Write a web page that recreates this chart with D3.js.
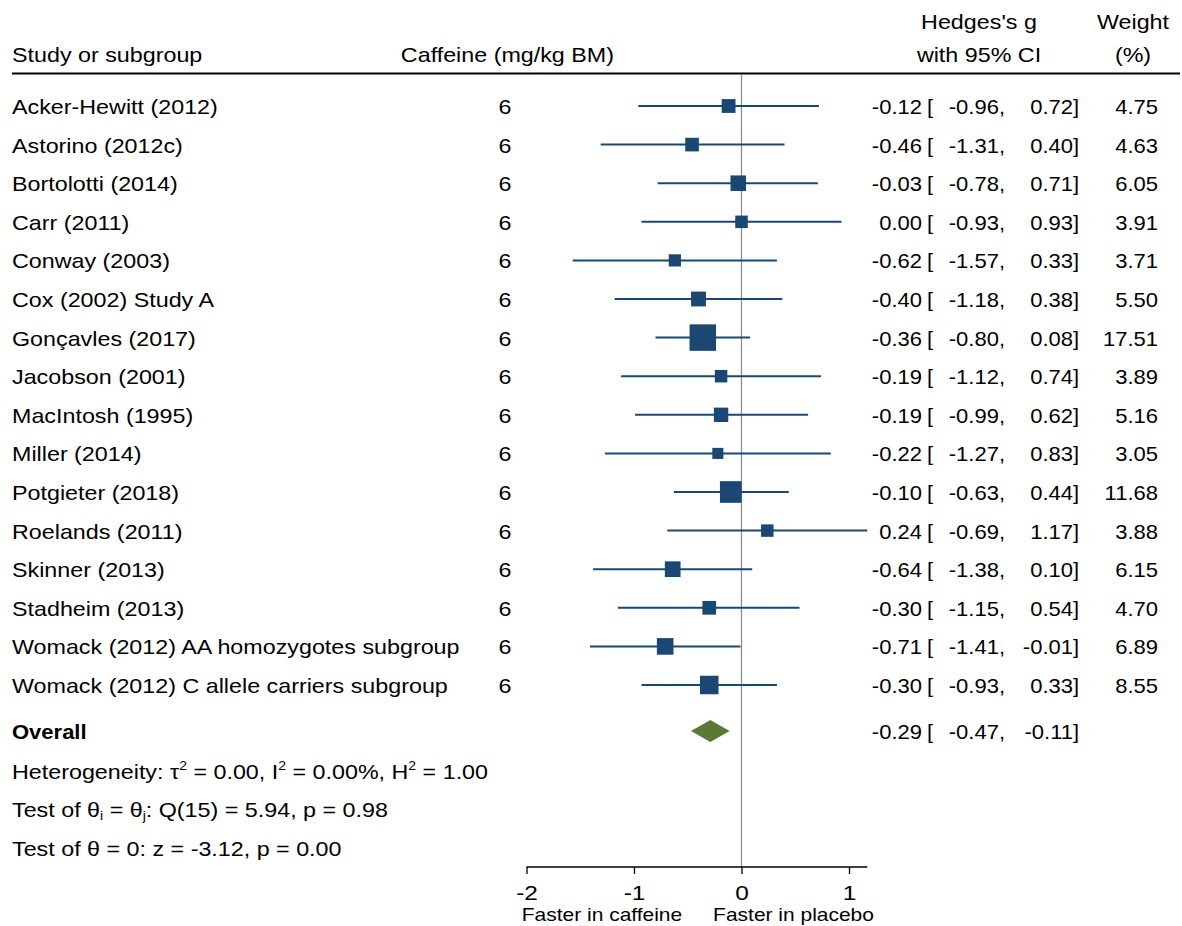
<!DOCTYPE html>
<html><head><meta charset="utf-8">
<script src="https://cdn.jsdelivr.net/npm/d3@7/dist/d3.min.js"></script>
<style>body{margin:0;background:#fff}svg{font-family:"Liberation Sans",Arial,sans-serif}</style>
</head><body><svg id="c" width="1182" height="926"></svg>
<script>
const studies = ["Acker-Hewitt (2012)","Astorino (2012c)","Bortolotti (2014)","Carr (2011)","Conway (2003)","Cox (2002) Study A","Gonçavles (2017)","Jacobson (2001)","MacIntosh (1995)","Miller (2014)","Potgieter (2018)","Roelands (2011)","Skinner (2013)","Stadheim (2013)","Womack (2012) AA homozygotes subgroup","Womack (2012) C allele carriers subgroup"];
const dose = [6,6,6,6,6,6,6,6,6,6,6,6,6,6,6,6];
const g = [-0.12,-0.46,-0.03,0.00,-0.62,-0.40,-0.36,-0.19,-0.19,-0.22,-0.10,0.24,-0.64,-0.30,-0.71,-0.30];
const lo = [-0.96,-1.31,-0.78,-0.93,-1.57,-1.18,-0.80,-1.12,-0.99,-1.27,-0.63,-0.69,-1.38,-1.15,-1.41,-0.93];
const hi = [0.72,0.40,0.71,0.93,0.33,0.38,0.08,0.74,0.62,0.83,0.44,1.17,0.10,0.54,-0.01,0.33];
const weight = [4.75,4.63,6.05,3.91,3.71,5.50,17.51,3.89,5.16,3.05,11.68,3.88,6.15,4.70,6.89,8.55];
const overall = {g:-0.29, lo:-0.47, hi:-0.11};
const xTicks = [-2,-1,0,1];

const svg = d3.select("#c");
const x = d3.scaleLinear().domain([-2,1]).range([526.5,849]);
const y = d3.scaleLinear().domain([0,15]).range([106,685]);
const side = d3.scaleSqrt().domain([0,17.51]).range([0,26.5]);
const fs = 20, SX = 1.165, NX = 1.1;
const navy = "#1b4872";
const fmt = v => d3.format(".2f")(v).replace("−","-");

function T(parent, px, py, str, opts={}){
  const t = parent.append("text")
    .attr("transform",`translate(${px},${py}) scale(${opts.sx||SX},1)`)
    .attr("font-size",opts.size||fs)
    .attr("text-anchor",opts.anchor||"start")
    .attr("fill","#000");
  if(opts.bold) t.attr("font-weight","bold");
  if(str!==null) t.text(str);
  return t;
}

// header
T(svg,12,62,"Study or subgroup");
T(svg,614,62,"Caffeine (mg/kg BM)",{anchor:"end"});
T(svg,979,29,"Hedges's g",{anchor:"middle"});
T(svg,979,62,"with 95% CI",{anchor:"middle"});
T(svg,1133,29,"Weight",{anchor:"middle"});
T(svg,1133,62,"(%)",{anchor:"middle"});
svg.append("line").attr("x1",12).attr("x2",1180).attr("y1",73.5).attr("y2",73.5).attr("stroke","#000").attr("stroke-width",2);

// null line
svg.append("line").attr("x1",x(0)).attr("x2",x(0)).attr("y1",75).attr("y2",867).attr("stroke","#888").attr("stroke-width",1.2);

function ciRow(sel, yy, gg, l, h){
  T(sel,922,yy,fmt(gg),{anchor:"end",sx:NX});
  T(sel,927,yy,"[",{sx:NX});
  T(sel,1005,yy,fmt(l)+",",{anchor:"end",sx:NX});
  T(sel,1073,yy,fmt(h),{anchor:"end",sx:NX});
  T(sel,1073,yy,"]",{sx:NX});
}

const rows = svg.append("g");
studies.forEach((s,i)=>{
  const gr = rows.append("g");
  const yy = y(i);
  T(gr,12,yy+8,s);
  T(gr,505,yy+8,String(dose[i]),{anchor:"middle"});
  gr.append("line").attr("x1",x(lo[i])).attr("x2",x(hi[i])).attr("y1",yy).attr("y2",yy).attr("stroke",navy).attr("stroke-width",2);
  const sd = side(weight[i]);
  gr.append("rect").attr("x",x(g[i])-sd/2).attr("y",yy-sd/2).attr("width",sd).attr("height",sd).attr("fill",navy);
  ciRow(gr, yy+8, g[i], lo[i], hi[i]);
  T(gr,1158,yy+8,fmt(weight[i]),{anchor:"end",sx:NX});
});

// overall
const yo = 731;
T(svg,12,yo+8,"Overall",{bold:true,sx:1.1});
svg.append("path").attr("d",`M${x(overall.lo)},${yo}L${x(overall.g)},${yo-11}L${x(overall.hi)},${yo}L${x(overall.g)},${yo+11}Z`).attr("fill","#5a7a33");
ciRow(svg.append("g"), yo+8, overall.g, overall.lo, overall.hi);

// stats text
const t1 = T(svg,12,779,null);
t1.append("tspan").text("Heterogeneity: τ");
t1.append("tspan").attr("font-size",12).attr("dy",-9).text("2");
t1.append("tspan").attr("dy",9).text(" = 0.00, I");
t1.append("tspan").attr("font-size",12).attr("dy",-9).text("2");
t1.append("tspan").attr("dy",9).text(" = 0.00%, H");
t1.append("tspan").attr("font-size",12).attr("dy",-9).text("2");
t1.append("tspan").attr("dy",9).text(" = 1.00");
const t2 = T(svg,12,817,null);
t2.append("tspan").text("Test of θ");
t2.append("tspan").attr("font-size",12).attr("dy",3).text("i");
t2.append("tspan").attr("dy",-3).text(" = θ");
t2.append("tspan").attr("font-size",12).attr("dy",3).text("j");
t2.append("tspan").attr("dy",-3).text(": Q(15) = 5.94, p = 0.98");
T(svg,12,856,"Test of θ = 0: z = -3.12, p = 0.00");

// axis
const ax = svg.append("g").attr("transform","translate(0,867)");
ax.append("line").attr("x1",x(-2)).attr("x2",x(1.17)).attr("stroke","#000").attr("stroke-width",1.3);
const axis = d3.axisBottom(x).tickValues(xTicks).tickSize(7).tickFormat(d=>String(d));
ax.call(axis);
ax.select(".domain").remove();
ax.selectAll(".tick line").attr("stroke","#000").attr("stroke-width",1.3);
ax.selectAll(".tick text").remove();
ax.selectAll(".tick").each(function(d){
  T(d3.select(this),0,33,String(d),{anchor:"middle",size:21});
});
T(svg,x(-1)-32,921,"Faster in caffeine",{anchor:"middle",size:18});
T(svg,x(0)+52,921,"Faster in placebo",{anchor:"middle",size:18});
</script></body></html>
